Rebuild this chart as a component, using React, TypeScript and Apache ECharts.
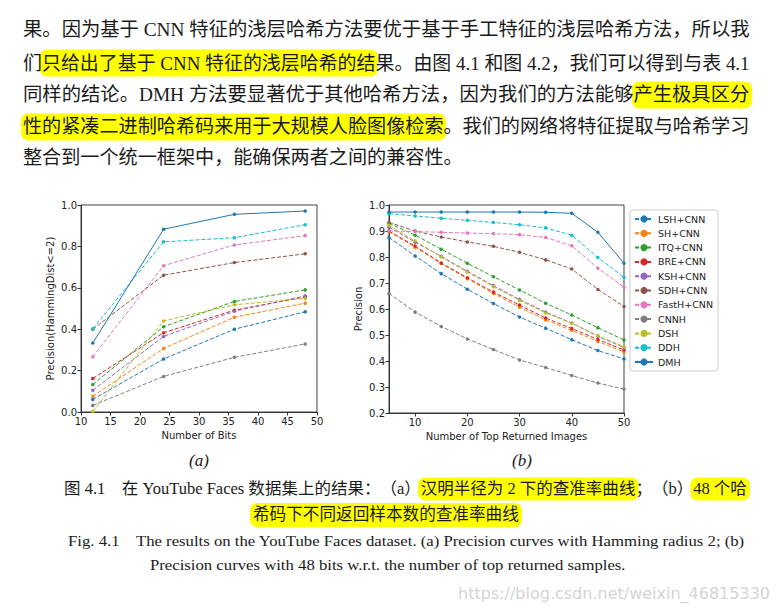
import React, { useEffect, useRef } from "react";
import * as echarts from "echarts";

// ---------- data ----------
const methods = ["LSH+CNN", "SH+CNN", "ITQ+CNN", "BRE+CNN", "KSH+CNN", "SDH+CNN", "FastH+CNN", "CNNH", "DSH", "DDH", "DMH"];
const colors = ["#1f77b4", "#ff7f0e", "#2ca02c", "#d62728", "#9467bd", "#8c564b", "#e377c2", "#7f7f7f", "#bcbd22", "#17becf", "#1f77b4"];

const bits = [12, 24, 36, 48];
const precA_LSH = [0.061, 0.256, 0.4, 0.484];
const precA_SH = [0.076, 0.307, 0.458, 0.526];
const precA_ITQ = [0.133, 0.412, 0.534, 0.59];
const precA_BRE = [0.162, 0.383, 0.492, 0.556];
const precA_KSH = [0.105, 0.365, 0.487, 0.561];
const precA_SDH = [0.4, 0.661, 0.722, 0.764];
const precA_FastH = [0.267, 0.707, 0.807, 0.852];
const precA_CNNH = [0.032, 0.172, 0.264, 0.329];
const precA_DSH = [0.003, 0.44, 0.518, 0.548];
const precA_DDH = [0.402, 0.822, 0.842, 0.905];
const precA_DMH = [0.333, 0.883, 0.955, 0.971];

const topN = [5, 10, 15, 20, 25, 30, 35, 40, 45, 50];
const precB_LSH = [0.875, 0.804, 0.736, 0.676, 0.621, 0.569, 0.526, 0.482, 0.44, 0.408];
const precB_SH = [0.897, 0.838, 0.775, 0.716, 0.66, 0.607, 0.558, 0.518, 0.475, 0.435];
const precB_ITQ = [0.93, 0.884, 0.83, 0.776, 0.724, 0.673, 0.622, 0.577, 0.528, 0.481];
const precB_BRE = [0.9, 0.842, 0.777, 0.72, 0.665, 0.615, 0.565, 0.525, 0.483, 0.442];
const precB_KSH = [0.915, 0.857, 0.803, 0.745, 0.69, 0.637, 0.588, 0.546, 0.495, 0.452];
const precB_SDH = [0.933, 0.9, 0.877, 0.858, 0.841, 0.818, 0.789, 0.754, 0.675, 0.61];
const precB_FastH = [0.9, 0.898, 0.895, 0.892, 0.89, 0.886, 0.875, 0.843, 0.757, 0.684];
const precB_CNNH = [0.66, 0.588, 0.533, 0.485, 0.444, 0.404, 0.375, 0.344, 0.315, 0.292];
const precB_DSH = [0.922, 0.862, 0.8, 0.742, 0.686, 0.633, 0.585, 0.545, 0.498, 0.455];
const precB_DDH = [0.967, 0.958, 0.949, 0.941, 0.933, 0.924, 0.912, 0.884, 0.798, 0.722];
const precB_DMH = [0.973, 0.973, 0.973, 0.973, 0.973, 0.973, 0.972, 0.968, 0.895, 0.776];

const seriesA = [precA_LSH, precA_SH, precA_ITQ, precA_BRE, precA_KSH, precA_SDH, precA_FastH, precA_CNNH, precA_DSH, precA_DDH, precA_DMH];
const seriesB = [precB_LSH, precB_SH, precB_ITQ, precB_BRE, precB_KSH, precB_SDH, precB_FastH, precB_CNNH, precB_DSH, precB_DDH, precB_DMH];

const xTicksB = [10, 20, 30, 40, 50];

// ---------- text ----------
const bodyLines = [
  "果。因为基于 CNN 特征的浅层哈希方法要优于基于手工特征的浅层哈希方法，所以我",
  "们只给出了基于 CNN 特征的浅层哈希的结果。由图 4.1 和图 4.2，我们可以得到与表 4.1",
  "同样的结论。DMH 方法要显著优于其他哈希方法，因为我们的方法能够产生极具区分",
  "性的紧凑二进制哈希码来用于大规模人脸图像检索。我们的网络将特征提取与哈希学习",
  "整合到一个统一框架中，能确保两者之间的兼容性。",
];
const bodyHighlights = [
  [1, "只给出了基于 CNN 特征的浅层哈希的结"],
  [2, "产生极具区分"],
  [3, "性的紧凑二进制哈希码来用于大规模人脸图像检索"],
];
const captionCn1 = "图 4.1　在 YouTube Faces 数据集上的结果：（a）汉明半径为 2 下的查准率曲线；（b）48 个哈";
const captionCn2 = "希码下不同返回样本数的查准率曲线";
const captionEn1 = "Fig. 4.1    The results on the YouTube Faces dataset. (a) Precision curves with Hamming radius 2; (b)";
const captionEn2 = "Precision curves with 48 bits w.r.t. the number of top returned samples.";
const captionHighlights = ["汉明半径为 2 下的查准率曲线", "48 个哈"];
const watermark = "https://blog.csdn.net/weixin_46815330";

const SERIF = '"Liberation Serif", "Noto Sans CJK SC", serif';
const SANS = '"DejaVu Sans", sans-serif';

export default function App() {
  const ref = useRef<HTMLDivElement>(null);
  useEffect(() => {
    if (!ref.current) return;
    ref.current.style.setProperty("text-spacing-trim", "space-all");
    const chart = echarts.init(ref.current, null, { renderer: "svg" });

    // measure with a DOM span that inherits the same text layout settings as the SVG text
    const span = document.createElement("span");
    span.style.position = "absolute";
    span.style.left = "0px";
    span.style.top = "0px";
    span.style.visibility = "hidden";
    span.style.whiteSpace = "pre";
    span.style.setProperty("text-spacing-trim", "space-all");
    document.body.appendChild(span);
    const measure = (t: string, font: string) => {
      span.style.font = font;
      span.textContent = t;
      return span.getBoundingClientRect().width;
    };

    const graphics: any[] = [];
    const fitLine = (text: string, font: string, left: number, right: number | null, cy: number, highlights: string[], hlH: number, pad: number, scaleOverride?: number) => {
      const w = measure(text, font);
      const s = scaleOverride ?? (right !== null ? (right - left) / w : 1);
      highlights.forEach((h) => {
        const idx = text.indexOf(h);
        if (idx < 0) return;
        const x0 = left + measure(text.slice(0, idx), font) * s;
        const hw = measure(h, font) * s;
        graphics.push({
          type: "rect", z: 1,
          shape: { x: x0 - pad, y: cy - hlH / 2, width: hw + 2 * pad, height: hlH, r: 7 },
          style: { fill: "#ffff00" },
        });
      });
      graphics.push({
        type: "text", z: 5, x: left, y: cy, scaleX: s,
        style: { text, font, fill: "#1a1a1a", textAlign: "left", textVerticalAlign: "middle", align: "left", verticalAlign: "middle" },
      });
      return s;
    };

    const bodyFont = "19px " + SERIF;
    const bodyY = [30, 63, 95, 127, 158];
    let lastS = 1;
    bodyLines.forEach((line, i) => {
      const hs = bodyHighlights.filter((h) => h[0] === i).map((h) => h[1] as string);
      if (i < bodyLines.length - 1) lastS = fitLine(line, bodyFont, 23, 750, bodyY[i], hs, 27, 2);
      else fitLine(line, bodyFont, 23, null, bodyY[i], hs, 27, 2, lastS);
    });

    const capFont = "16.5px " + SERIF;
    fitLine(captionCn1, capFont, 64, 747, 489, captionHighlights, 23, 3);
    fitLine(captionCn2, capFont, 253, 519, 515, [captionCn2], 24, 3);
    const enFont = "15.5px " + SERIF;
    fitLine(captionEn1, enFont, 68, 745, 541, [], 0, 0);
    fitLine(captionEn2, enFont, 150, 626, 565, [], 0, 0);
    document.body.removeChild(span);

    graphics.push({
      type: "text", z: 5, x: 199, y: 460,
      style: { text: "(a)", font: "italic 17px " + SERIF, fill: "#1a1a1a", textAlign: "center", textVerticalAlign: "middle", align: "center", verticalAlign: "middle" },
    });
    graphics.push({
      type: "text", z: 5, x: 522, y: 460,
      style: { text: "(b)", font: "italic 17px " + SERIF, fill: "#1a1a1a", textAlign: "center", textVerticalAlign: "middle", align: "center", verticalAlign: "middle" },
    });
    graphics.push({
      type: "text", z: 5, x: 770, y: 593,
      style: { text: watermark, font: "16px " + SANS, fill: "#d4d4d4", textAlign: "right", textVerticalAlign: "middle", align: "right", verticalAlign: "middle" },
    });

    const axisCommon = {
      axisLine: { show: true, lineStyle: { color: "#333", width: 1 } },
      axisTick: { show: true, inside: false, length: 3.5, lineStyle: { color: "#333" } },
      axisLabel: { fontSize: 10, color: "#222", fontFamily: SANS, margin: 4 },
      splitLine: { show: false },
      nameTextStyle: { fontSize: 10, color: "#222", fontFamily: SANS },
      nameLocation: "middle" as const,
    };

    const mkSeries = (vals: number[][], xs: number[], idx: number) =>
      vals.map((v, i) => ({
        type: "line",
        name: methods[i],
        xAxisIndex: idx,
        yAxisIndex: idx,
        data: v.map((y, j) => [xs[j], y]),
        symbol: "circle",
        symbolSize: 3.5,
        showSymbol: true,
        itemStyle: { color: colors[i] },
        lineStyle: { color: colors[i], width: 1, type: i === 10 ? "solid" : [4, 2] },
        emphasis: { disabled: true },
      }));

    chart.setOption({
      animation: false,
      backgroundColor: "#ffffff",
      textStyle: { fontFamily: SANS },
      grid: [
        { left: 81, top: 205, width: 236, height: 207, show: true, borderColor: "#444", borderWidth: 1, backgroundColor: "transparent" },
        { left: 389, top: 205, width: 235, height: 208, show: true, borderColor: "#444", borderWidth: 1, backgroundColor: "transparent" },
      ],
      xAxis: [
        { ...axisCommon, type: "value", gridIndex: 0, min: 10, max: 50, interval: 5, name: "Number of Bits", nameGap: 18 },
        {
          ...axisCommon, type: "value", gridIndex: 1, min: 5, max: 50, name: "Number of Top Returned Images", nameGap: 18,
          axisLabel: { ...axisCommon.axisLabel, customValues: xTicksB },
          axisTick: { ...axisCommon.axisTick, customValues: xTicksB },
        },
      ],
      yAxis: [
        {
          ...axisCommon, type: "value", gridIndex: 0, min: 0, max: 1, interval: 0.2, name: "Precision(HammingDist<=2)", nameGap: 26,
          axisLabel: { ...axisCommon.axisLabel, formatter: (v: number) => v.toFixed(1) },
        },
        {
          ...axisCommon, type: "value", gridIndex: 1, min: 0.2, max: 1.0, interval: 0.1, name: "Precision", nameGap: 26,
          axisLabel: { ...axisCommon.axisLabel, formatter: (v: number) => v.toFixed(1) },
        },
      ],
      legend: {
        data: methods,
        orient: "vertical",
        left: 630,
        top: 210,
        itemWidth: 18,
        itemHeight: 9,
        itemGap: 4.3,
        padding: [4, 5, 4, 4],
        borderColor: "#cccccc",
        borderWidth: 1,
        borderRadius: 3,
        backgroundColor: "#ffffff",
        textStyle: { fontSize: 9.5, color: "#222", fontFamily: SANS, lineHeight: 9 },
        selectedMode: false,
      },
      series: [...mkSeries(seriesA, bits, 0), ...mkSeries(seriesB, topN, 1)],
      graphic: { elements: graphics },
    });
    return () => chart.dispose();
  }, []);

  return <div ref={ref} style={{ position: "fixed", left: 0, top: 0, width: 777, height: 615, background: "#fff" }} />;
}
